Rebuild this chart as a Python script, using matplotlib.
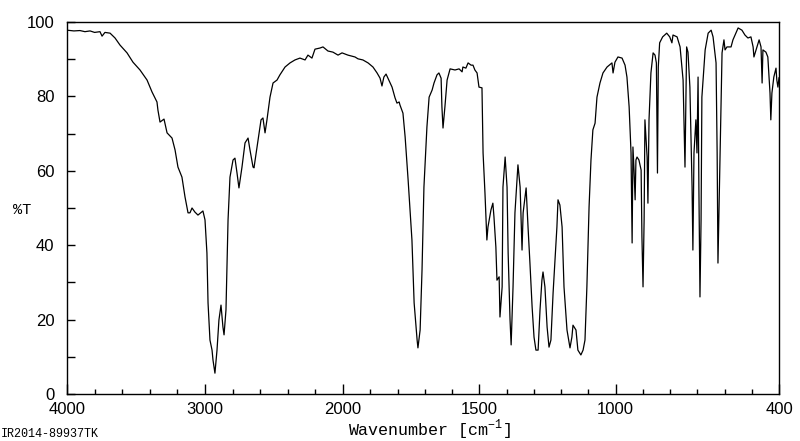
"""
IR spectrum (%T vs wavenumber), scale changes at 2000 cm-1
"""
import numpy as np
import matplotlib
matplotlib.use('Agg')
import matplotlib.pyplot as plt
from matplotlib.ticker import FixedLocator, NullFormatter

# ---- data ----
wavenumber = [
    4000, 3950, 3906, 3870, 3833, 3800, 3761, 3746, 3725, 3688,
    3652, 3616, 3565, 3522, 3471, 3420, 3384, 3348, 3341, 3326,
    3297, 3275, 3239, 3217, 3196, 3167, 3145, 3123, 3109, 3094,
    3073, 3051, 3015, 3000, 2986, 2978, 2964, 2949, 2942, 2928,
    2913, 2899, 2884, 2870, 2862, 2848, 2833, 2819, 2797, 2783,
    2768, 2754, 2732, 2710, 2688, 2674, 2652, 2645, 2623, 2594,
    2580, 2565, 2551, 2529, 2507, 2478, 2457, 2420, 2384, 2348,
    2312, 2275, 2254, 2225, 2203, 2167, 2145, 2109, 2073, 2036,
    2007, 1982, 1956, 1945, 1927, 1908, 1890, 1875, 1864, 1857,
    1850, 1842, 1835, 1820, 1809, 1802, 1794, 1791, 1780, 1772,
    1761, 1747, 1739, 1728, 1725, 1717, 1710, 1703, 1692, 1684,
    1673, 1666, 1655, 1648, 1640, 1637, 1633, 1626, 1618, 1607,
    1589, 1574, 1563, 1560, 1549, 1541, 1530, 1523, 1516, 1508,
    1501, 1490, 1486, 1479, 1472, 1468, 1457, 1450, 1446, 1439,
    1435, 1427, 1424, 1416, 1413, 1405, 1398, 1394, 1387, 1383,
    1376, 1369, 1361, 1358, 1350, 1343, 1339, 1328, 1321, 1314,
    1306, 1299, 1292, 1284, 1277, 1270, 1266, 1259, 1251, 1244,
    1237, 1229, 1215, 1211, 1204, 1196, 1189, 1178, 1167, 1160,
    1156, 1145, 1138, 1127, 1119, 1112, 1105, 1097, 1090, 1083,
    1075, 1068, 1057, 1046, 1031, 1013, 1009, 1002, 991, 976,
    965, 958, 950, 943, 939, 936, 932, 928, 925, 921,
    914, 906, 903, 899, 895, 892, 884, 881, 877, 870,
    862, 855, 850, 846, 843, 838, 827, 812, 801, 793,
    789, 774, 763, 752, 745, 739, 734, 727, 719, 716,
    712, 705, 701, 697, 694, 690, 686, 683, 671, 660,
    649, 642, 631, 627, 624, 616, 609, 602, 598, 591,
    576, 569, 550, 536, 525, 514, 503, 495, 492, 481,
    473, 466, 462, 459, 448, 441, 433, 430, 426, 419,
    411, 408, 404, 400,
]
transmittance = [
    97.8, 97.6, 97.7, 97.4, 97.6, 97.2, 97.4, 96.2, 97.2, 97.0,
    95.7, 93.8, 91.7, 89.2, 87.1, 84.4, 81.2, 78.5, 76.3, 73.1,
    73.9, 70.2, 68.8, 65.6, 61.0, 58.3, 53.0, 48.7, 48.7, 50.0,
    48.9, 48.1, 49.2, 46.8, 37.9, 24.5, 14.5, 11.8, 9.1, 5.6,
    11.8, 19.9, 23.9, 18.0, 15.9, 22.6, 46.8, 58.3, 62.9, 63.4,
    59.4, 55.4, 61.0, 67.5, 68.8, 65.6, 61.0, 60.8, 66.4, 73.7,
    74.2, 70.2, 73.7, 79.8, 83.6, 84.4, 85.8, 87.9, 89.0, 89.8,
    90.3, 89.8, 91.1, 90.3, 92.7, 93.0, 93.3, 92.2, 91.9, 91.1,
    91.7, 91.1, 90.6, 90.1, 89.8, 89.0, 87.9, 86.3, 84.9, 82.8,
    85.2, 86.0, 84.9, 82.5, 79.6, 78.2, 78.5, 77.7, 75.5, 69.1,
    57.5, 41.4, 24.5, 14.5, 12.4, 17.2, 33.3, 55.6, 71.8, 79.8,
    81.7, 83.6, 85.8, 86.3, 84.9, 77.2, 71.5, 77.2, 84.4, 87.4,
    87.1, 87.4, 86.6, 87.9, 87.6, 89.0, 88.4, 88.4, 87.1, 86.3,
    82.5, 82.3, 64.8, 54.0, 41.4, 44.9, 49.5, 51.3, 47.6, 39.5,
    30.6, 31.5, 20.7, 28.8, 55.6, 63.7, 55.6, 37.9, 19.9, 13.2,
    28.8, 48.7, 58.3, 61.6, 55.6, 38.7, 48.7, 55.4, 44.9, 35.2,
    23.4, 15.3, 11.8, 11.8, 22.6, 30.6, 32.8, 28.8, 18.0, 12.6,
    14.5, 27.2, 44.9, 52.2, 50.8, 44.9, 28.8, 17.2, 12.4, 15.3,
    18.5, 17.2, 11.8, 10.5, 11.8, 14.5, 28.8, 50.3, 62.9, 71.0,
    72.8, 79.8, 83.6, 86.3, 87.9, 89.0, 86.3, 89.2, 90.6, 90.3,
    88.4, 85.2, 77.2, 64.8, 40.6, 66.4, 60.2, 52.2, 62.9, 63.7,
    62.9, 60.2, 42.2, 28.8, 46.8, 73.7, 63.7, 51.3, 73.7, 86.3,
    91.7, 91.1, 89.0, 59.4, 87.9, 94.4, 96.0, 97.0, 96.0, 94.4,
    96.5, 96.0, 93.3, 84.4, 61.0, 93.3, 91.9, 82.5, 55.6, 38.7,
    64.8, 73.7, 64.8, 85.2, 55.6, 26.1, 46.8, 79.8, 92.5, 97.0,
    97.8, 96.0, 89.0, 64.8, 35.2, 64.8, 91.7, 95.2, 92.5, 93.3,
    93.3, 95.2, 98.4, 97.8, 96.5, 95.7, 96.0, 93.3, 90.6, 93.3,
    95.2, 93.3, 83.6, 92.5, 91.9, 90.6, 80.9, 73.7, 80.9, 85.2,
    87.6, 84.4, 82.5, 85.0,
]

x_labels = [4000, 3000, 2000, 1500, 1000, 400]
x_minor = list(range(3800, 2000, -200)) + list(range(1900, 400, -100))
y_labels = [0, 20, 40, 60, 80, 100]
y_minor = [10, 30, 50, 70, 90]


# 2000 cm-1 以上与以下使用不同的比例
def fwd(w):
    w = np.asarray(w, dtype=float)
    return np.where(w <= 2000, (w - 400) * 436 / 1600, 436 + (w - 2000) * 276 / 2000)


def inv(p):
    p = np.asarray(p, dtype=float)
    return np.where(p <= 436, 400 + p * 1600 / 436, 2000 + (p - 436) * 2000 / 276)


fig = plt.figure(figsize=(8, 4.41), dpi=100)
ax = fig.add_axes([67 / 800, 47 / 441, 712 / 800, 372 / 441])

ax.set_xscale('function', functions=(fwd, inv))
ax.plot(wavenumber, transmittance, color='black', linewidth=0.9)

ax.set_xlim(4000, 400)
ax.set_ylim(0, 100)

ax.xaxis.set_major_locator(FixedLocator(x_labels))
ax.xaxis.set_minor_locator(FixedLocator(x_minor))
ax.xaxis.set_minor_formatter(NullFormatter())
ax.set_xticklabels([str(v) for v in x_labels])
ax.yaxis.set_major_locator(FixedLocator(y_labels))
ax.yaxis.set_minor_locator(FixedLocator(y_minor))
ax.set_yticklabels([str(v) for v in y_labels])

for lab in ax.get_xticklabels() + ax.get_yticklabels():
    lab.set_fontfamily('Liberation Sans')
    lab.set_fontsize(12)

ax.tick_params(axis='x', which='major', direction='in', length=7, width=1, pad=6)
ax.tick_params(axis='x', which='minor', direction='in', length=3.5, width=1)
ax.tick_params(axis='y', which='both', direction='in', length=6, width=1, pad=9)

for spine in ax.spines.values():
    spine.set_linewidth(1.0)
    spine.set_color('black')

plt.rcParams['mathtext.fontset'] = 'custom'
plt.rcParams['mathtext.rm'] = 'Liberation Mono'
fig.text(429 / 800, 1 - 430 / 441, r'Wavenumber [cm$^{\mathrm{-1}}$]',
         family='Liberation Mono', fontsize=12, ha='center', va='center')
fig.text(22 / 800, 1 - 210 / 441, '%T', family='Liberation Mono',
         fontsize=11, ha='center', va='center')
fig.text(1 / 800, 1 - 434 / 441, 'IR2014-89937TK', family='Liberation Mono',
         fontsize=8.5, ha='left', va='center')

fig.savefig('out.png', dpi=100)
